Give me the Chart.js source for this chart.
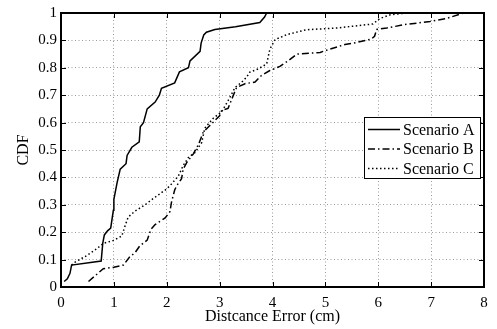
<!DOCTYPE html>
<html>
<head>
<meta charset="utf-8">
<script src="https://cdn.jsdelivr.net/npm/chart.js@4"></script>
<style>
  html, body { margin: 0; padding: 0; background: #fff; }
  #wrap { width: 497px; height: 329px; }
</style>
</head>
<body>
<div id="wrap"><canvas id="cdf" width="497" height="329"></canvas></div>
<script>
// values
const seriesNames = ["Scenario A", "Scenario B", "Scenario C"];

const scenA_x = [0.06, 0.12, 0.17, 0.2, 0.76, 0.79, 0.82, 0.88, 0.94, 0.99, 1.0, 1.06, 1.12, 1.23, 1.25, 1.34, 1.48, 1.5, 1.56, 1.63, 1.78, 1.86, 1.9, 2.15, 2.24, 2.41, 2.44, 2.63, 2.65, 2.7, 2.75, 2.91, 3.3, 3.76, 3.85, 3.89];
const scenA_y = [0.02, 0.03, 0.05, 0.08, 0.095, 0.16, 0.19, 0.205, 0.215, 0.28, 0.32, 0.38, 0.43, 0.45, 0.48, 0.51, 0.53, 0.585, 0.6, 0.65, 0.675, 0.7, 0.725, 0.745, 0.785, 0.8, 0.825, 0.86, 0.89, 0.92, 0.93, 0.94, 0.95, 0.965, 0.985, 1.0];

const scenB_x = [0.52, 0.8, 1.0, 1.18, 1.3, 1.4, 1.49, 1.63, 1.7, 1.78, 1.97, 2.06, 2.09, 2.15, 2.19, 2.28, 2.31, 2.38, 2.5, 2.6, 2.69, 2.82, 3.0, 3.04, 3.16, 3.26, 3.32, 3.48, 3.67, 3.79, 3.95, 4.14, 4.3, 4.46, 4.9, 5.02, 5.37, 5.53, 5.87, 5.93, 5.97, 6.16, 6.47, 6.98, 7.29, 7.61];
const scenB_y = [0.02, 0.067, 0.072, 0.08, 0.11, 0.125, 0.15, 0.171, 0.21, 0.228, 0.252, 0.275, 0.31, 0.354, 0.37, 0.395, 0.43, 0.455, 0.485, 0.52, 0.565, 0.59, 0.625, 0.645, 0.652, 0.7, 0.728, 0.742, 0.748, 0.772, 0.79, 0.805, 0.826, 0.85, 0.856, 0.864, 0.885, 0.89, 0.905, 0.915, 0.94, 0.945, 0.957, 0.969, 0.98, 1.0];

const scenC_x = [0.2, 0.26, 0.49, 0.67, 0.8, 0.99, 1.15, 1.21, 1.27, 1.4, 1.59, 1.71, 2.0, 2.09, 2.22, 2.31, 2.41, 2.53, 2.66, 2.72, 2.88, 3.04, 3.19, 3.29, 3.42, 3.51, 3.57, 3.73, 3.89, 3.95, 4.05, 4.27, 4.64, 5.21, 5.9, 6.03, 6.22, 6.53];
const scenC_y = [0.08, 0.09, 0.115, 0.139, 0.159, 0.17, 0.186, 0.222, 0.255, 0.277, 0.3, 0.318, 0.358, 0.376, 0.405, 0.443, 0.473, 0.49, 0.527, 0.58, 0.616, 0.64, 0.69, 0.728, 0.748, 0.766, 0.784, 0.796, 0.814, 0.868, 0.903, 0.921, 0.939, 0.945, 0.96, 0.98, 0.993, 1.0];

const xTickLabels = ["0", "1", "2", "3", "4", "5", "6", "7", "8"];
const yTickLabels = ["0", "0.1", "0.2", "0.3", "0.4", "0.5", "0.6", "0.7", "0.8", "0.9", "1"];

const serif = "'Liberation Serif', 'Times New Roman', serif";

function toPoints(xs, ys) {
  return xs.map((x, i) => ({ x: x, y: ys[i] }));
}

// frame with inward ticks, like the matlab box
const boxPlugin = {
  id: "box",
  afterDatasetsDraw(chart) {
    const { ctx, chartArea: a, scales } = chart;
    ctx.save();
    ctx.strokeStyle = "#000";
    ctx.lineWidth = 1;
    const tl = 5;
    ctx.beginPath();
    for (let i = 1; i < xTickLabels.length - 1; i++) {
      const px = Math.round(scales.x.getPixelForValue(i)) + 0.5;
      ctx.moveTo(px, a.bottom); ctx.lineTo(px, a.bottom - tl);
      ctx.moveTo(px, a.top); ctx.lineTo(px, a.top + tl);
    }
    for (let i = 1; i < yTickLabels.length - 1; i++) {
      const py = Math.round(scales.y.getPixelForValue(i / 10)) + 0.5;
      ctx.moveTo(a.left, py); ctx.lineTo(a.left + tl, py);
      ctx.moveTo(a.right, py); ctx.lineTo(a.right - tl, py);
    }
    ctx.stroke();
    ctx.lineWidth = 2;
    ctx.strokeRect(a.left, a.top, a.right - a.left, a.bottom - a.top);
    ctx.restore();
  },
};

const legendPlugin = {
  id: "boxLegend",
  afterDraw(chart) {
    const { ctx } = chart;
    const x0 = 364, y0 = 117, w = 116, h = 61;
    ctx.save();
    ctx.fillStyle = "#fff";
    ctx.fillRect(x0, y0, w, h);
    ctx.strokeStyle = "#000";
    ctx.lineWidth = 1;
    ctx.strokeRect(x0 + 0.5, y0 + 0.5, w, h);
    ctx.font = "16px " + serif;
    ctx.textBaseline = "middle";
    ctx.fillStyle = "#000";
    chart.data.datasets.forEach((ds, i) => {
      const y = y0 + 12.5 + i * 19.5;
      ctx.setLineDash(ds.borderDash || []);
      ctx.lineWidth = ds.borderWidth;
      ctx.beginPath();
      ctx.moveTo(x0 + 4, y);
      ctx.lineTo(x0 + 36, y);
      ctx.stroke();
      ctx.setLineDash([]);
      ctx.fillText(ds.label, x0 + 39, y + 1);
    });
    ctx.restore();
  },
};

const data = {
  datasets: [
    {
      label: seriesNames[0],
      data: toPoints(scenA_x, scenA_y),
      borderColor: "#000",
      borderWidth: 1.5,
      borderDash: [],
    },
    {
      label: seriesNames[1],
      data: toPoints(scenB_x, scenB_y),
      borderColor: "#000",
      borderWidth: 1.5,
      borderDash: [7, 3, 1.5, 3],
    },
    {
      label: seriesNames[2],
      data: toPoints(scenC_x, scenC_y),
      borderColor: "#000",
      borderWidth: 1.5,
      borderDash: [1.5, 2.5],
    },
  ],
};

const config = {
  type: "scatter",
  data: data,
  options: {
    responsive: false,
    animation: false,
    showLine: true,
    elements: { point: { radius: 0 }, line: { tension: 0 } },
    layout: { padding: { top: 8, right: 13, left: 0, bottom: 0 } },
    plugins: { legend: { display: false }, tooltip: { enabled: false } },
    scales: {
      x: {
        type: "linear",
        min: 0,
        max: 8,
        afterFit: (s) => { s.height = 42; },
        grid: { color: "#9a9a9a", lineWidth: 1, drawTicks: false },
        border: { display: false, dash: [1, 2.5] },
        ticks: {
          stepSize: 1,
          padding: 7,
          color: "#000",
          font: { family: serif, size: 15 },
          maxRotation: 0,
          callback: (v) => xTickLabels[v],
        },
        title: {
          display: true,
          text: "Distcance Error (cm)",
          color: "#000",
          font: { family: serif, size: 16 },
          padding: { top: 0, bottom: 3 },
        },
      },
      y: {
        type: "linear",
        min: 0,
        max: 1,
        afterFit: (s) => { s.width = 61; },
        grid: { color: "#9a9a9a", lineWidth: 1, drawTicks: false },
        border: { display: false, dash: [1, 2.5] },
        ticks: {
          stepSize: 0.1,
          padding: 4,
          color: "#000",
          font: { family: serif, size: 15 },
          callback: (v) => yTickLabels[Math.round(v * 10)],
        },
        title: {
          display: true,
          text: "CDF",
          color: "#000",
          font: { family: serif, size: 16 },
          padding: { top: 14, bottom: 0 },
        },
      },
    },
  },
  plugins: [boxPlugin, legendPlugin],
};

new Chart(document.getElementById("cdf"), config);
</script>
</body>
</html>
